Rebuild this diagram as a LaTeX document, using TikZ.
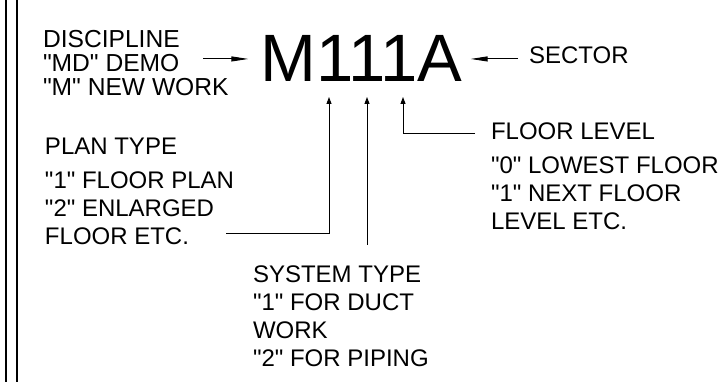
\documentclass[tikz,border=0pt]{standalone}
\usepackage{fontspec}
\setmainfont{Liberation Sans}[Ligatures=TeXOff]
\usetikzlibrary{arrows.meta}
\begin{document}
\begin{tikzpicture}[x=1pt,y=-1pt,
  lbl/.style={inner sep=0pt, outer sep=0pt, anchor=north west, align=left, font=\fontsize{24}{28}\selectfont},
  lead/.style={line width=0.9pt},
  bigarrow/.style={lead, -{Triangle[length=17pt,width=5pt]}},
  smallarrow/.style={lead, -{Triangle[length=7pt,width=5pt]}},
  border/.style={line width=1.3pt}]
\useasboundingbox (0,0) rectangle (721,382);
% left border
\draw[border] (6,0) -- (6,382);
\draw[border] (17,0) -- (17,382);
% main code
\node[inner sep=0pt, outer sep=0pt, anchor=base, font=\fontsize{67}{67}\selectfont] (code) at (361.5,82) {M111A};
% labels
\node[lbl, font=\fontsize{24.6}{24}\selectfont] (disc) at (43,30.5) {DISCIPLINE\\"MD" DEMO\\"M" NEW WORK};
\node[lbl, anchor=base west] (sector) at (529,64) {SECTOR};
\node[lbl] (plan) at (45,138) {PLAN TYPE\\[6pt]"1" FLOOR PLAN\\"2" ENLARGED\\FLOOR ETC.};
\node[lbl] (floor) at (491,123) {FLOOR LEVEL\\[6pt]"0" LOWEST FLOOR\\"1" NEXT FLOOR\\LEVEL ETC.};
\node[lbl] (system) at (253,266) {SYSTEM TYPE\\"1" FOR DUCT\\WORK\\"2" FOR PIPING};
% coordinates
\coordinate (dtail) at (203,57);
\coordinate (d1) at (329,97);
\coordinate (d2) at (367,97);
\coordinate (d3) at (403,97);
\coordinate (p1) at (226,233);
\coordinate (s1) at (367,245);
\coordinate (f1) at (475,133);
% connectors
\draw[bigarrow, shorten >=12pt] (dtail |- code.west) -- (code.west);
\draw[bigarrow, shorten <=11pt, shorten >=8pt] (code.east -| sector.west) -- (code.east);
\draw[smallarrow] (p1) -| (d1);
\draw[smallarrow] (s1) -- (d2);
\draw[smallarrow] (f1) -| (d3);
\end{tikzpicture}
\end{document}
